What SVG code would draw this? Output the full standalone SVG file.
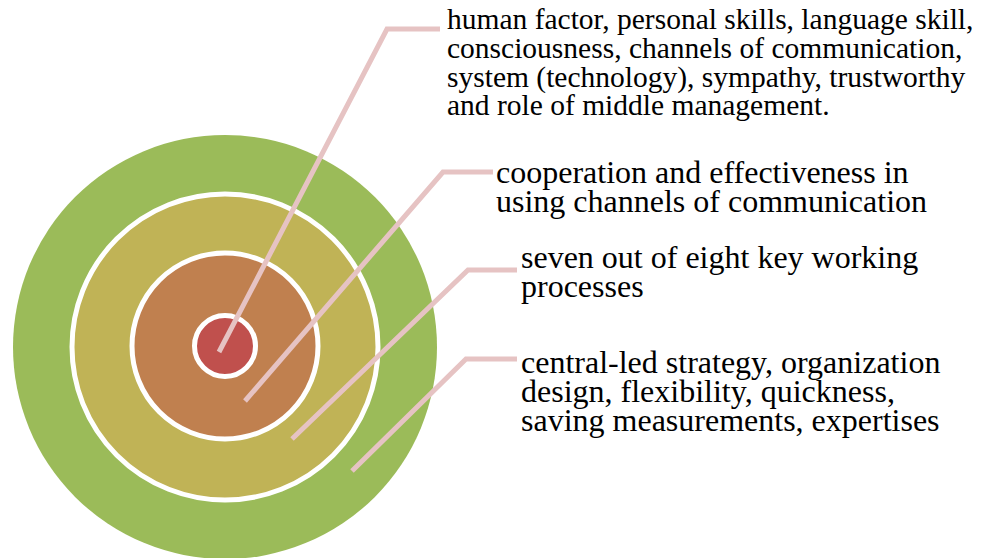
<svg xmlns="http://www.w3.org/2000/svg" width="983" height="558" viewBox="0 0 983 558">
<style>
.ring{stroke:#FFFFFF;stroke-width:5}
.conn{fill:none;stroke:#E6C3C3;stroke-width:5;stroke-linejoin:miter}
.lbl{font-family:"Liberation Serif","Times New Roman",serif;font-size:32px;fill:#000000}
.lbl-s{font-family:"Liberation Serif","Times New Roman",serif;font-size:29.5px;fill:#000000}
</style>
<rect width="983" height="558" fill="#FFFFFF"/>
<g id="ring-outer"><circle cx="225" cy="347" r="212" fill="#9BBB59"/></g>
<g id="ring-third"><circle class="ring" cx="225" cy="347" r="153" fill="#C0B356"/></g>
<g id="ring-second"><circle class="ring" cx="225" cy="346" r="93" fill="#C0804F"/></g>
<g id="ring-core"><circle class="ring" cx="225" cy="346" r="30.5" fill="#C0504D"/></g>
<g id="connectors">
<polyline class="conn" points="219,352 387,29 440,29"/>
<polyline class="conn" points="245,401 443,172 493,172"/>
<polyline class="conn" points="292,439 468,270 517,270"/>
<polyline class="conn" points="352,471 466,359 517,359"/>
</g>
<g id="label-core">
<text class="lbl-s" x="447" y="29">human factor, personal skills, language skill,</text>
<text class="lbl-s" x="447" y="58">consciousness, channels of communication,</text>
<text class="lbl-s" x="447" y="86.5">system (technology), sympathy, trustworthy</text>
<text class="lbl-s" x="447" y="115">and role of middle management.</text>
</g>
<g id="label-second">
<text class="lbl" x="496" y="183">cooperation and effectiveness in</text>
<text class="lbl" x="496" y="212">using channels of communication</text>
</g>
<g id="label-third">
<text class="lbl" x="521" y="268">seven out of eight key working</text>
<text class="lbl" x="521" y="297">processes</text>
</g>
<g id="label-outer">
<text class="lbl" x="521" y="373">central-led strategy, organization</text>
<text class="lbl" x="521" y="402">design, flexibility, quickness,</text>
<text class="lbl" x="521" y="431">saving measurements, expertises</text>
</g>
</svg>
